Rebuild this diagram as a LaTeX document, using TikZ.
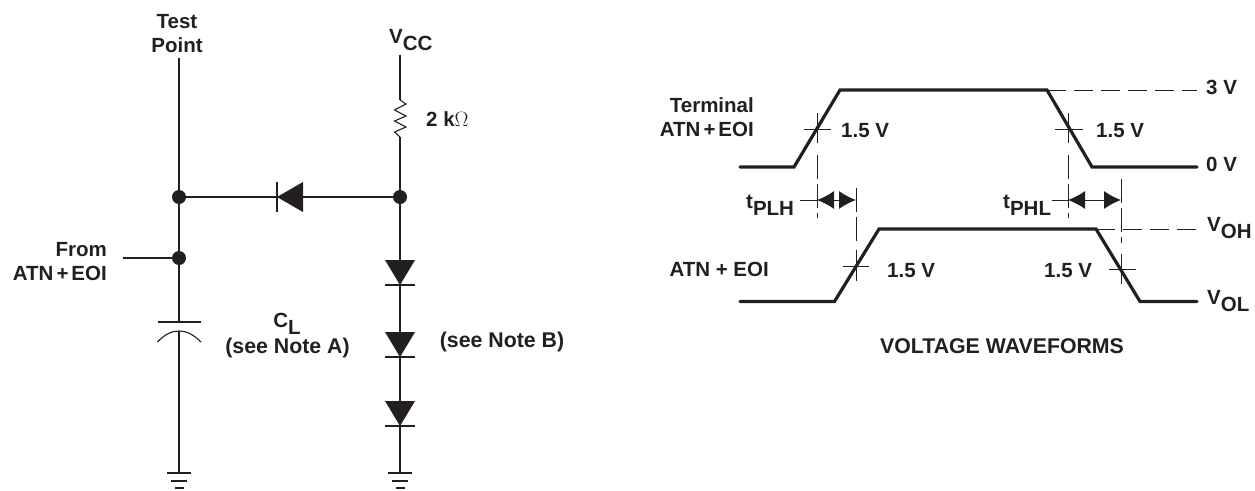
\documentclass[tikz,border=0pt]{standalone}
\usepackage{fontspec}
\setmainfont{Liberation Sans}
\usetikzlibrary{arrows.meta}
\definecolor{ink}{HTML}{231F20}
\newcommand{\lowtxt}[2]{#1\raisebox{-0.36em}{#2}}
\tikzset{
  wire/.style={draw=ink, line width=1.1pt},
  tick/.style={draw=ink, line width=1pt},
  wave/.style={draw=ink, line width=3.2pt, line join=miter, line cap=round},
  guide/.style={draw=ink, line width=1pt, dash pattern=on 19pt off 8pt},
  vguide/.style={draw=ink, line width=1pt, dash pattern=on 24pt off 5pt},
  timing/.style={draw=ink, line width=1pt, {Latex[length=17pt,width=18pt]}-{Latex[length=17pt,width=18pt]}},
  jdot/.style={circle, fill=ink, inner sep=0pt, minimum size=14pt},
  lbl/.style={text=ink, inner sep=0pt, align=center, font=\fontsize{20.5}{24}\selectfont\bfseries},
  biglbl/.style={lbl, font=\fontsize{21.3}{24}\selectfont\bfseries}
}
\begin{document}
\begin{tikzpicture}[x=1pt, y=-1pt]
\useasboundingbox (0,0) rectangle (1255,490);
\node[lbl] (testpoint) at (177,33.5) {Test\\Point};
\node[lbl, anchor=base west] (vcc) at (389,43) {\lowtxt{V}{CC}};
\node[lbl, anchor=west] (rlabel) at (426,119) {2 k{\fontseries{m}\selectfont $\Omega$}};
\node[lbl, align=right, anchor=east] (fromatn) at (107,262) {From\\ATN\kern3pt+\kern3pt EOI};
\node[lbl, anchor=base] (cl) at (287,327) {\lowtxt{C}{L}};
\node[biglbl] (notea) at (287.5,348) {(see Note A)};
\node[biglbl] (noteb) at (502,342) {(see Note B)};

\node[jdot] (jleft) at (179,197) {};
\node[jdot] (jright) at (400,197) {};
\node[jdot] (jfrom) at (179,258) {};
\coordinate (tptop) at (179,58);
\coordinate (vcctop) at (400,55);
\coordinate (rtop) at (400,100);
\coordinate (rbot) at (400,137);
\coordinate (fromend) at (123,258);
\coordinate (capa) at (179,322);
\coordinate (capb) at (179,331);
\coordinate (gndl) at (179,473);
\coordinate (gndr) at (400,473);

% circuit
\draw[wire] (tptop) -- (jleft);
\draw[wire] (jleft) -- (jfrom);
\draw[wire] (jfrom) -- (capa);
\draw[wire] (capb) -- (gndl);
\draw[wire] (fromend) -- (jfrom);
\draw[wire] (vcctop) -- (rtop);
\draw[wire] (rtop) -- (406,104) -- (394.5,110) -- (406,116) -- (394.5,121) -- (406,127) -- (394.5,132) -- (rbot);
\draw[wire] (rbot) -- (jright);
\draw[wire] (jleft) -- (jright);
\draw[wire] (jright) -- (gndr);

\draw[wire] (157.5,322) -- (201,322);
\draw[wire] (157.5,342) .. controls (165,334) and (172,331) .. (capb) .. controls (186,331) and (193,334) .. (201,342);

% diodes
\draw[wire] (277,182) -- (277,212);
\fill[ink] (277,197) -- (303,182) -- (303,212) -- cycle;
\draw[wire] (385,285) -- (415,285);
\fill[ink] (385,260) -- (415,260) -- (400,285) -- cycle;
\draw[wire] (385,357) -- (415,357);
\fill[ink] (385,332) -- (415,332) -- (400,357) -- cycle;
\draw[wire] (385,426) -- (415,426);
\fill[ink] (385,401) -- (415,401) -- (400,426) -- cycle;

% grounds
\draw[wire] (167,473) -- (191,473);
\draw[wire] (171,481) -- (187,481);
\draw[wire] (175,488) -- (183.5,488);
\draw[wire] (388,473) -- (412,473);
\draw[wire] (392,481) -- (408,481);
\draw[wire] (396,488) -- (404.5,488);

% waveforms
\coordinate (ahigh) at (840,90);
\coordinate (afall) at (1047,90);
\coordinate (bhigh) at (879,229);
\coordinate (bfall) at (1096,229);
\node[lbl, anchor=west] (threev) at (1206,87) {3 V};
\node[lbl, anchor=west] (zerov) at (1206,164) {0 V};
\node[lbl, anchor=base west] (voh) at (1207,231) {\lowtxt{V}{OH}};
\node[lbl, anchor=base west] (vol) at (1207,304) {\lowtxt{V}{OL}};
\node[lbl, align=right, anchor=east] (termlbl) at (754,117) {Terminal\\ATN\kern3pt+\kern3pt EOI};
\node[lbl, anchor=east] (atnlbl) at (769,269) {ATN + EOI};
\node[lbl, anchor=west] (va) at (841,131) {1.5 V};
\node[lbl, anchor=west] (vb) at (1096,131) {1.5 V};
\node[lbl, anchor=west] (vc) at (887,271) {1.5 V};
\node[lbl, anchor=west] (vd) at (1044,271) {1.5 V};
\node[lbl, anchor=base west] (tplh) at (746,208) {\lowtxt{t}{PLH}};
\node[lbl, anchor=base west] (tphl) at (1003,208) {\lowtxt{t}{PHL}};
\node[biglbl] (wavetitle) at (1002,346) {VOLTAGE WAVEFORMS};

\draw[wave] (740,167) -- (794,167) -- (ahigh) -- (afall) -- (1092,167) -- (1197,167);
\draw[wave] (740,301.5) -- (834.5,301.5) -- (bhigh) -- (bfall) -- (1140,301.5) -- (1197,301.5);
\draw[guide] (afall) -- (1197,90);
\draw[guide] (bfall) -- (1197,229);

% level marks
\draw[tick] (804,129) -- (830.5,129);
\draw[tick] (1055,129) -- (1082.5,129);
\draw[tick] (842.5,266) -- (869,266);
\draw[tick] (1109,269) -- (1136,269);
\draw[tick] (817,113) -- (817,143);
\draw[tick] (1068,113) -- (1068,143);
\draw[tick] (856,250) -- (856,281);
\draw[tick] (1121,254) -- (1121,284);
\draw[vguide] (817,155) -- (817,218);
\draw[vguide] (1068,155) -- (1068,218);
\draw[vguide] (856,188) -- (856,245);
\draw[vguide] (1121,179) -- (1121,243);

% delays
\coordinate (plhleft) at (817,200);
\coordinate (plhright) at (856,200);
\coordinate (phlleft) at (1068,200);
\coordinate (phlright) at (1121,200);
\draw[tick] (800,200) -- (plhleft);
\draw[tick] (1052,200) -- (phlleft);
\draw[timing] (plhleft) -- (plhright);
\draw[timing] (phlleft) -- (phlright);
\end{tikzpicture}
\end{document}
